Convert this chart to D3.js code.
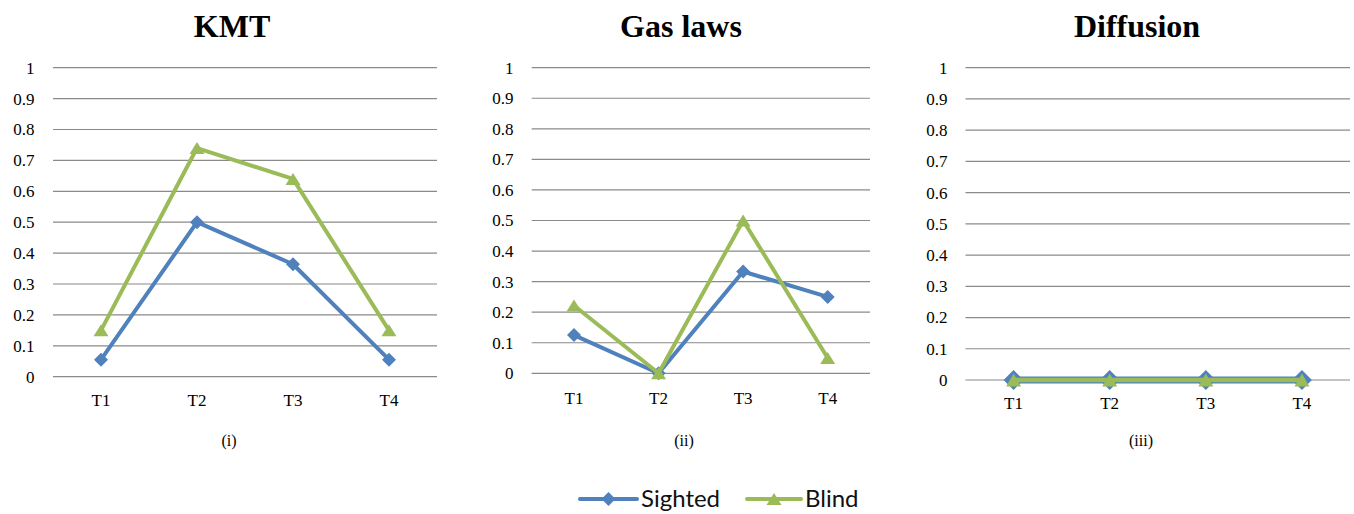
<!DOCTYPE html>
<html>
<head>
<meta charset="utf-8">
<script src="https://cdn.jsdelivr.net/npm/d3@7"></script>
<style>
  html, body { margin: 0; padding: 0; background: #fff; }
  svg { display: block; }
</style>
</head>
<body>
<svg id="chart" width="1354" height="514"></svg>
<script>
// Data
const categories = ["T1", "T2", "T3", "T4"];
const panelTitles = ["KMT", "Gas laws", "Diffusion"];
const panelCaptions = ["(i)", "(ii)", "(iii)"];
const sightedValues = [
  [0.055, 0.5, 0.364, 0.055],
  [0.125, 0, 0.333, 0.25],
  [0, 0, 0, 0]
];
const blindValues = [
  [0.15, 0.74, 0.64, 0.15],
  [0.222, 0, 0.5, 0.05],
  [0, 0, 0, 0]
];
const yTicks = [0, 0.1, 0.2, 0.3, 0.4, 0.5, 0.6, 0.7, 0.8, 0.9, 1];
const seriesNames = ["Sighted", "Blind"];

// Layout of the three panels (the third one is drawn at a slightly larger scale)
const panels = [
  { left: 53, right: 437, top: 67.7, bottom: 376.7, labelX: 34.5, catY: 400, titleX: 232, capX: 229,
    diamond: 7, tri: [15, 12], sw: [4, 4] },
  { left: 531.7, right: 870, top: 67.7, bottom: 373.3, labelX: 513.5, catY: 398, titleX: 681, capX: 684,
    diamond: 7, tri: [15, 12], sw: [4, 4] },
  { left: 965.5, right: 1350, top: 67.7, bottom: 380, labelX: 947.5, catY: 403, titleX: 1137, capX: 1141,
    diamond: 10, tri: [15, 13], sw: [7, 4.5] }
];
const colors = { Sighted: "#4F81BD", Blind: "#9BBB59" };

const svg = d3.select("#chart");

function diamondPath(r) {
  return `M0,${-r}L${r},0L0,${r}L${-r},0Z`;
}
function trianglePath(w, h) {
  return `M0,${-h / 2}L${w / 2},${h / 2}L${-w / 2},${h / 2}Z`;
}

const serif = "'Liberation Serif', 'Times New Roman', serif";

panels.forEach((p, i) => {
  const g = svg.append("g");
  const x = d3.scaleBand().domain(categories).range([p.left, p.right]);
  const y = d3.scaleLinear().domain([0, 1]).range([p.bottom, p.top]);

  // Title
  g.append("text")
    .attr("x", p.titleX).attr("y", 37)
    .attr("text-anchor", "middle")
    .style("font-family", serif)
    .style("font-weight", "bold")
    .style("font-size", "32px")
    .text(panelTitles[i]);

  // Gridlines
  g.append("g").selectAll("line").data(yTicks).join("line")
    .attr("x1", p.left).attr("x2", p.right)
    .attr("y1", d => y(d)).attr("y2", d => y(d))
    .attr("stroke", "#8a8a8a").attr("stroke-width", 1.2);

  // Y tick labels
  g.append("g").selectAll("text").data(yTicks).join("text")
    .attr("x", p.labelX).attr("y", d => y(d))
    .attr("dy", "0.35em")
    .attr("text-anchor", "end")
    .style("font-family", serif)
    .style("font-size", "17px")
    .text(d => d3.format("")(d));

  // Category labels
  g.append("g").selectAll("text").data(categories).join("text")
    .attr("x", d => x(d) + x.bandwidth() / 2).attr("y", p.catY)
    .attr("dy", "0.35em")
    .attr("text-anchor", "middle")
    .style("font-family", serif)
    .style("font-size", "17px")
    .text(d => d);

  // Caption
  g.append("text")
    .attr("x", p.capX).attr("y", 440)
    .attr("dy", "0.35em")
    .attr("text-anchor", "middle")
    .style("font-family", serif)
    .style("font-size", "16px")
    .text(panelCaptions[i]);

  const line = d3.line()
    .x((d, j) => x(categories[j]) + x.bandwidth() / 2)
    .y(d => y(d));

  const series = [
    { name: "Sighted", values: sightedValues[i], shape: diamondPath(p.diamond), sw: p.sw[0] },
    { name: "Blind", values: blindValues[i], shape: trianglePath(p.tri[0], p.tri[1]), sw: p.sw[1] }
  ];

  series.forEach(s => {
    g.append("path")
      .datum(s.values)
      .attr("d", line)
      .attr("fill", "none")
      .attr("stroke", colors[s.name])
      .attr("stroke-width", s.sw)
      .attr("stroke-linejoin", "round");
    g.append("g").selectAll("path").data(s.values).join("path")
      .attr("d", s.shape)
      .attr("transform", (d, j) => `translate(${x(categories[j]) + x.bandwidth() / 2},${y(d)})`)
      .attr("fill", colors[s.name]);
  });
});

// Legend
const legend = svg.append("g");
const legendItems = [
  { name: seriesNames[0], x1: 580, x2: 637, shape: diamondPath(7), tx: 641 },
  { name: seriesNames[1], x1: 747, x2: 801, shape: trianglePath(15, 12), tx: 805 }
];
legendItems.forEach(it => {
  legend.append("line")
    .attr("x1", it.x1).attr("x2", it.x2)
    .attr("y1", 499).attr("y2", 499)
    .attr("stroke", colors[it.name]).attr("stroke-width", 4)
    .attr("stroke-linecap", "round");
  legend.append("path")
    .attr("d", it.shape)
    .attr("transform", `translate(${(it.x1 + it.x2) / 2},499)`)
    .attr("fill", colors[it.name]);
  legend.append("text")
    .attr("x", it.tx).attr("y", 499)
    .attr("dy", "0.35em")
    .style("font-family", "Lato, 'Open Sans', sans-serif")
    .style("font-size", "24px")
    .attr("fill", "#111")
    .text(it.name);
});
</script>
</body>
</html>
